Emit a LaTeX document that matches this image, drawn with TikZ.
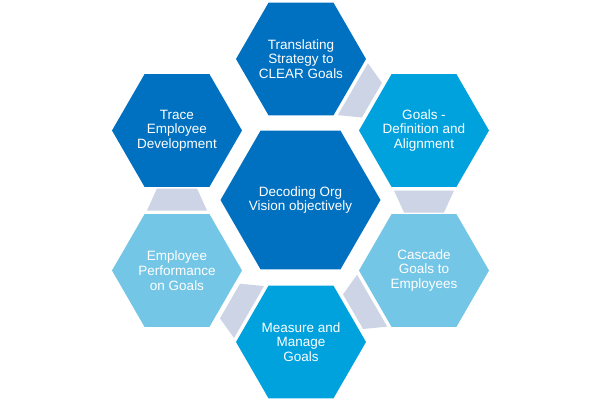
\documentclass[tikz,border=0pt]{standalone}
\usepackage{fontspec}
\setmainfont{Liberation Sans}
\usetikzlibrary{calc}
\definecolor{hexdark}{RGB}{0,112,192}
\definecolor{hexmid}{RGB}{0,162,222}
\definecolor{hexlight}{RGB}{116,198,230}
\definecolor{linkgray}{RGB}{204,212,230}
\tikzset{
  hexlabel/.style={inner sep=0pt, text=white, align=center,
    font=\fontsize{13.5}{14.7}\selectfont},
  linkfill/.style={fill=linkgray}
}
\newcommand\hexfill[3]{%
  \fill[#3] ($(#1)+(0:#2)$) -- ($(#1)+(60:#2)$) -- ($(#1)+(120:#2)$)
    -- ($(#1)+(180:#2)$) -- ($(#1)+(240:#2)$) -- ($(#1)+(300:#2)$) -- cycle;}
\newcommand\linkshape[2]{%
  \coordinate (w) at ($(#1)!60pt!(#2)$);
  \coordinate (n) at ($(#1)!82pt!(#2)$);
  \fill[linkfill] ($(w)!30pt!90:(#2)$) -- ($(w)!30pt!-90:(#2)$)
    -- ($(n)!20pt!-90:(#2)$) -- ($(n)!20pt!90:(#2)$) -- cycle;}
\begin{document}
\begin{tikzpicture}[x=1pt,y=-1pt]
\fill[white] (0,0) rectangle (600,402);
\useasboundingbox (0,0) rectangle (600,402);
\coordinate (ctr) at (300.5,200);
\coordinate (top) at (301,59);
\coordinate (tr) at (424,130.5);
\coordinate (br) at (424,270.5);
\coordinate (bot) at (301,342);
\coordinate (bl) at (177,270.5);
\coordinate (tl) at (177,130.5);
\hexfill{ctr}{80}{hexdark}
\hexfill{top}{65}{hexdark}
\hexfill{tr}{65}{hexmid}
\hexfill{br}{65}{hexlight}
\hexfill{bot}{65}{hexmid}
\hexfill{bl}{65}{hexlight}
\hexfill{tl}{65}{hexdark}
\node[hexlabel] (ctrtxt) at (ctr) {Decoding Org\\Vision objectively};
\node[hexlabel] (toptxt) at (top) {Translating\\Strategy to\\CLEAR Goals};
\node[hexlabel] (trtxt) at (tr) {Goals -\\Definition and\\Alignment};
\node[hexlabel] (brtxt) at (br) {Cascade\\Goals to\\Employees};
\node[hexlabel] (bottxt) at (bot) {Measure and\\Manage\\Goals};
\node[hexlabel] (bltxt) at (bl) {Employee\\Performance\\on Goals};
\node[hexlabel] (tltxt) at (tl) {Trace\\Employee\\Development};
\linkshape{top}{tr}
\linkshape{tr}{br}
\linkshape{br}{bot}
\linkshape{bot}{bl}
\linkshape{bl}{tl}
\end{tikzpicture}
\end{document}
